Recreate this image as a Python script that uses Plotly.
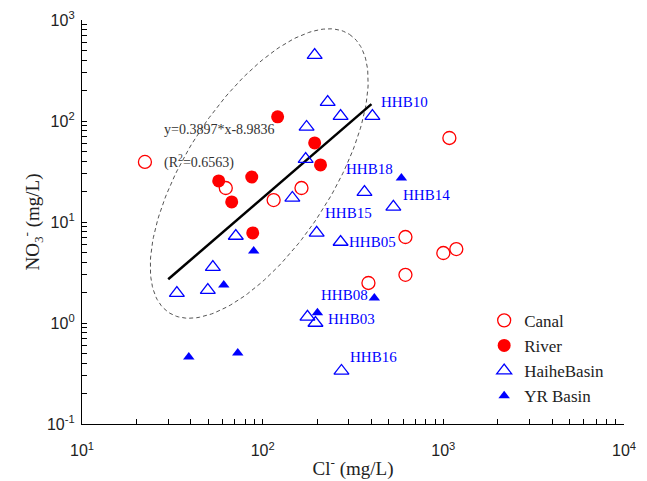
import numpy as np
import plotly.graph_objects as go

# ---------------- data ----------------
canal_cl = [22.3, 62.5, 115, 164, 1080, 617, 617, 385, 1000, 1180]
canal_no3 = [39.3, 21.7, 16.5, 21.7, 67.9, 7.1, 3.0, 2.49, 4.93, 5.4]

river_cl = [121, 194, 209, 57.1, 87, 67.4, 88.1]
river_no3 = [110, 60.6, 36.7, 25.5, 27.9, 15.8, 7.8]

haihe_id = ["", "", "", "HHB10", "", "", "HHB18", "HHB14", "", "", "HHB15",
            "HHB05", "", "", "", "", "HHB03", "HHB16"]
haihe_cl = [194, 229, 270, 405, 175, 173, 366, 529, 146, 71, 199, 270, 53,
            33.5, 49.7, 177, 196, 273]
haihe_no3 = [450, 154, 112, 112, 87.3, 42, 19.8, 14.1, 17.3, 7.27, 7.8, 6.34,
             3.58, 1.98, 2.12, 1.15, 1.0, 0.335]

yr_id = ["", "HHB08", "", "", "", "", ""]
yr_cl = [586, 415, 201, 89.2, 60.9, 39, 72.8]
yr_no3 = [27.3, 1.77, 1.26, 5.16, 2.38, 0.46, 0.505]

fit_cl = [30, 400]
fit_no3 = [2.71, 146.9]
fit_text = ["y=0.3897*x-8.9836", "(R<sup>2</sup>=0.6563)"]

# ---------------- styling ----------------
SERIF = "Liberation Serif, Times New Roman, serif"
SANS = "Liberation Sans, Arial, sans-serif"
RED = "#ff0000"
BLUE = "#0000ff"

# label offsets (pixels) relative to the labelled point
label_shift = {"HHB10": (32, 14), "HHB18": (5, 23), "HHB14": (33, 12),
               "HHB15": (32, 20), "HHB05": (32, 0), "HHB03": (36, 4),
               "HHB16": (32, 14), "HHB08": (-30, 3)}

# dashed confidence ellipse (decoration) in log10 space
ell_center = (np.log10(95.7), np.log10(30.2))
ell_u = (0.4995, 1.378)
ell_v = (0.338, -0.3936)
t = np.linspace(0, 2 * np.pi, 200)
ell_lx = ell_center[0] + ell_u[0] * np.cos(t) + ell_v[0] * np.sin(t)
ell_ly = ell_center[1] + ell_u[1] * np.cos(t) + ell_v[1] * np.sin(t)

fig = go.Figure()
fig.add_trace(go.Scatter(x=10 ** ell_lx, y=10 ** ell_ly, mode="lines",
                         line=dict(color="#555555", width=1, dash="4px,3px"),
                         showlegend=False, hoverinfo="skip"))
fig.add_trace(go.Scatter(x=fit_cl, y=fit_no3, mode="lines",
                         line=dict(color="black", width=2.5),
                         showlegend=False))
fig.add_trace(go.Scatter(x=canal_cl, y=canal_no3, mode="markers", name="Canal",
                         marker=dict(symbol="circle-open", size=13, color=RED,
                                     line=dict(width=1.3, color=RED))))
fig.add_trace(go.Scatter(x=river_cl, y=river_no3, mode="markers", name="River",
                         marker=dict(symbol="circle", size=13, color=RED)))
fig.add_trace(go.Scatter(x=haihe_cl, y=haihe_no3, mode="markers", name="HaiheBasin",
                         marker=dict(symbol="triangle-up-open", size=13, color=BLUE,
                                     line=dict(width=1.3, color=BLUE))))
fig.add_trace(go.Scatter(x=yr_cl, y=yr_no3, mode="markers", name="YR Basin",
                         marker=dict(symbol="triangle-up", size=10, color=BLUE)))

annotations = []
for ids, xs, ys in ((haihe_id, haihe_cl, haihe_no3), (yr_id, yr_cl, yr_no3)):
    for name, xv, yv in zip(ids, xs, ys):
        if not name:
            continue
        dx, dy = label_shift[name]
        annotations.append(dict(x=np.log10(xv), y=np.log10(yv), xref="x", yref="y",
                                text=name, showarrow=False, xshift=dx, yshift=dy,
                                font=dict(family=SERIF, size=15, color=BLUE)))
annotations.append(dict(x=1.442, y=1.911, xref="x", yref="y", text=fit_text[0],
                        showarrow=False, xanchor="left",
                        font=dict(family=SERIF, size=14, color="#333333")))
annotations.append(dict(x=1.442, y=1.604, xref="x", yref="y", text=fit_text[1],
                        showarrow=False, xanchor="left",
                        font=dict(family=SERIF, size=14, color="#333333")))

tickvals = [m * 10 ** e for e in range(-1, 4) for m in range(1, 10)] + [10 ** 4]


def ticktext(vals):
    out = []
    for v in vals:
        e = np.log10(v)
        if abs(e - round(e)) < 1e-9:
            out.append("10<sup>%d</sup>" % round(e))
        else:
            out.append("")
    return out


axis_common = dict(type="log", showline=True, linecolor="black", linewidth=1.3,
                   ticks="inside", ticklen=5, tickwidth=1.2, tickcolor="black",
                   showgrid=False, zeroline=False, mirror=False, automargin=False,
                   tickvals=tickvals, ticktext=ticktext(tickvals),
                   tickfont=dict(family=SANS, size=16, color="#222222"))

fig.update_layout(
    width=647, height=481,
    margin=dict(l=82, r=23, t=20, b=57),
    paper_bgcolor="white", plot_bgcolor="white",
    xaxis=dict(range=[1, 4], ticklabelstandoff=12,
               title=dict(text="Cl<sup>-</sup> (mg/L)", standoff=3,
                          font=dict(family=SERIF, size=19, color="#222222")),
               **axis_common),
    yaxis=dict(range=[-1, 3], ticklabelstandoff=3,
               title=dict(text="NO<sub>3</sub><sup>-</sup> (mg/L)", standoff=2,
                          font=dict(family=SERIF, size=19, color="#222222")),
               **axis_common),
    legend=dict(x=0.742, y=0.3, xanchor="left", yanchor="top",
                bgcolor="rgba(0,0,0,0)", tracegroupgap=0,
                font=dict(family=SERIF, size=17, color="#222222")),
    annotations=annotations,
)

fig.write_html("out.html")
